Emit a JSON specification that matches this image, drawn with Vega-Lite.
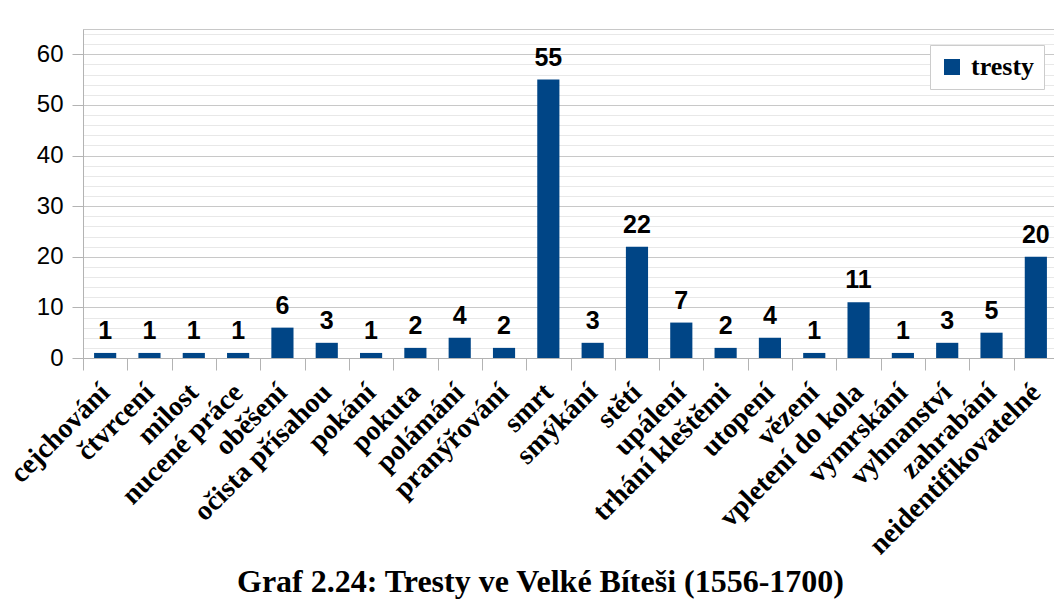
{
  "$schema": "https://vega.github.io/schema/vega-lite/v6.json",
  "autosize": {"type": "none"},
  "padding": {"left": 83, "top": 29, "right": -4, "bottom": 242},
  "width": 975,
  "height": 329,
  "background": "white",
  "title": {
    "text": "Graf 2.24: Tresty ve Velké Bíteši (1556-1700)",
    "orient": "bottom",
    "anchor": "middle",
    "dx": -30,
    "offset": 32,
    "baseline": "alphabetic",
    "font": "Liberation Serif",
    "fontSize": 32,
    "fontWeight": "bold",
    "color": "black"
  },
  "data": {
    "values": [
      {"trest": "cejchování", "pocet": 1, "serie": "tresty"},
      {"trest": "čtvrcení", "pocet": 1, "serie": "tresty"},
      {"trest": "milost", "pocet": 1, "serie": "tresty"},
      {"trest": "nucené práce", "pocet": 1, "serie": "tresty"},
      {"trest": "oběšení", "pocet": 6, "serie": "tresty"},
      {"trest": "očista přísahou", "pocet": 3, "serie": "tresty"},
      {"trest": "pokání", "pocet": 1, "serie": "tresty"},
      {"trest": "pokuta", "pocet": 2, "serie": "tresty"},
      {"trest": "polámání", "pocet": 4, "serie": "tresty"},
      {"trest": "pranýřování", "pocet": 2, "serie": "tresty"},
      {"trest": "smrt", "pocet": 55, "serie": "tresty"},
      {"trest": "smýkání", "pocet": 3, "serie": "tresty"},
      {"trest": "stětí", "pocet": 22, "serie": "tresty"},
      {"trest": "upálení", "pocet": 7, "serie": "tresty"},
      {"trest": "trhání kleštěmi", "pocet": 2, "serie": "tresty"},
      {"trest": "utopení", "pocet": 4, "serie": "tresty"},
      {"trest": "vězení", "pocet": 1, "serie": "tresty"},
      {"trest": "vpletení do kola", "pocet": 11, "serie": "tresty"},
      {"trest": "vymrskání", "pocet": 1, "serie": "tresty"},
      {"trest": "vyhnanství", "pocet": 3, "serie": "tresty"},
      {"trest": "zahrabání", "pocet": 5, "serie": "tresty"},
      {"trest": "neidentifikovatelné", "pocet": 20, "serie": "tresty"}
    ]
  },
  "encoding": {
    "x": {
      "field": "trest",
      "type": "nominal",
      "sort": null,
      "scale": {"paddingInner": 0, "paddingOuter": 0},
      "axis": {
        "title": null,
        "labelFont": "Liberation Serif",
        "labelFontWeight": "bold",
        "labelFontSize": 28,
        "labelColor": "black",
        "labelAngle": -45,
        "labelAlign": "right",
        "labelBaseline": "middle",
        "labelPadding": 18,
        "labelLimit": 400,
        "labelOverlap": false,
        "labelBound": false,
        "tickBand": "extent",
        "tickSize": 12,
        "tickColor": "#b3b3b3",
        "domainColor": "#b3b3b3",
        "grid": false
      }
    },
    "y": {
      "field": "pocet",
      "type": "quantitative",
      "scale": {"domain": [0, 65], "nice": false},
      "axis": {
        "title": null,
        "values": [0, 2, 4, 6, 8, 10, 12, 14, 16, 18, 20, 22, 24, 26, 28, 30, 32, 34, 36, 38, 40, 42, 44, 46, 48, 50, 52, 54, 56, 58, 60, 62, 64],
        "labelExpr": "datum.value % 10 === 0 ? datum.label : ''",
        "labelFont": "Liberation Sans",
        "labelFontSize": 24,
        "labelColor": "black",
        "labelPadding": 9,
        "tickSize": 11,
        "tickColor": {"condition": {"test": "datum.value % 10 === 0", "value": "#b3b3b3"}, "value": "transparent"},
        "gridColor": {"condition": {"test": "datum.value % 10 === 0", "value": "#c8c8c8"}, "value": "#e8e8e8"},
        "domainColor": "#b3b3b3"
      }
    }
  },
  "layer": [
    {
      "mark": {"type": "bar", "width": {"band": 0.5}},
      "encoding": {
        "color": {
          "field": "serie",
          "type": "nominal",
          "scale": {"range": ["#004586"]},
          "legend": {
            "title": null,
            "orient": "none",
            "legendX": 847,
            "legendY": 16,
            "labelFont": "Liberation Serif",
            "labelFontWeight": "bold",
            "labelFontSize": 26,
            "labelColor": "black",
            "symbolType": "square",
            "symbolSize": 256,
            "symbolStrokeWidth": 0,
            "strokeColor": "#cccccc",
            "fillColor": "white",
            "padding": 9,
            "labelOffset": 6
          }
        }
      }
    },
    {
      "mark": {
        "type": "text",
        "dy": -14,
        "baseline": "alphabetic",
        "font": "Liberation Sans",
        "fontWeight": "bold",
        "fontSize": 25,
        "color": "black"
      },
      "encoding": {
        "text": {"field": "pocet", "type": "quantitative"}
      }
    }
  ],
  "config": {
    "font": "Liberation Serif",
    "view": {"stroke": "#c8c8c8"}
  }
}
